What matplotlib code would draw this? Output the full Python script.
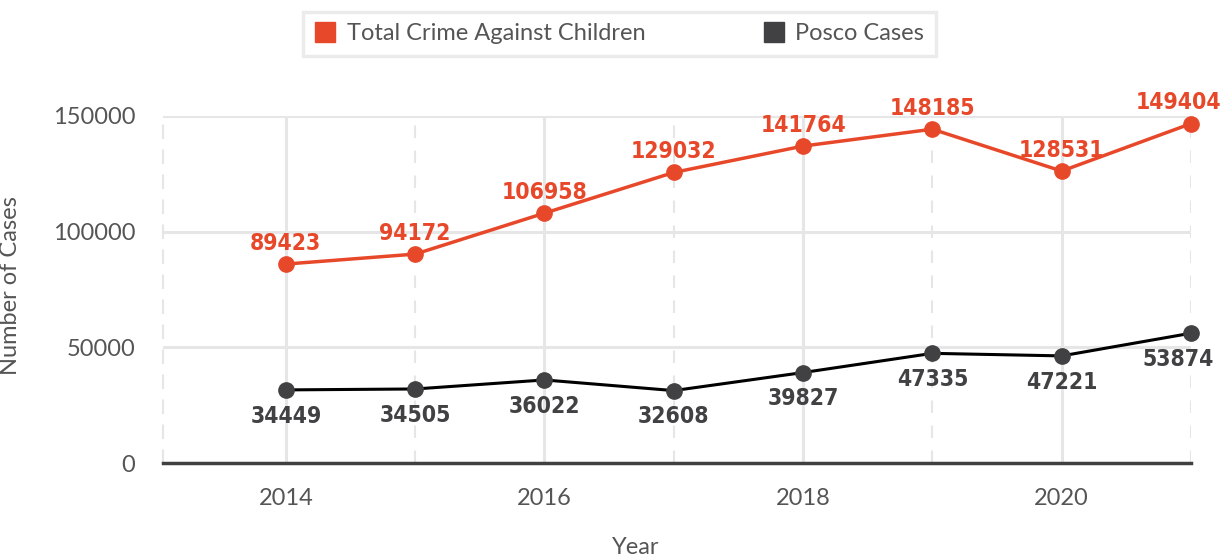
"""Crime against children vs POCSO cases, line chart."""

import matplotlib.pyplot as plt
from matplotlib.lines import Line2D
from matplotlib import font_manager

# Data
years = [2014, 2015, 2016, 2017, 2018, 2019, 2020, 2021]
total_values = [86000, 90300, 108000, 125600, 137000, 144300, 126200, 146700]
total_labels = ['89423', '94172', '106958', '129032', '141764', '148185', '128531', '149404']
posco_values = [31600, 32000, 35900, 31300, 39100, 47400, 46300, 56100]
posco_labels = ['34449', '34505', '36022', '32608', '39827', '47335', '47221', '53874']
y_ticks = [0, 50000, 100000, 150000]
x_ticks = [2014, 2016, 2018, 2020]

ORANGE = '#E8482A'
DARK = '#414042'
GRID = '#E6E6E6'
TEXT = '#555555'
BASE_FONT = ['Lato', 'DejaVu Sans']

# condensed bold font for the value labels
label_prop = font_manager.FontProperties(family='DejaVu Sans', weight='bold',
                                         stretch='condensed', size=16.5)

fig = plt.figure(figsize=(12.23, 5.59), dpi=100)
ax = fig.add_axes([163 / 1223, 1 - 463 / 559, (1191 - 163) / 1223, (463 - 116) / 559])

ax.set_xlim(2013.05, 2021.0)
ax.set_ylim(0, 150000)

# Grid lines
for y in y_ticks[1:]:
    ax.axhline(y, color=GRID, lw=2.2, zorder=0)
for x in years:
    if x % 2 == 0:
        ax.axvline(x, color=GRID, lw=2.2, zorder=0)
    else:
        ax.axvline(x, color=GRID, lw=1.5, ls=(0, (6, 6)), zorder=0)

for side in ['top', 'right']:
    ax.spines[side].set_visible(False)
ax.spines['left'].set_color(GRID)
ax.spines['left'].set_linewidth(1.5)
ax.spines['left'].set_linestyle((0, (6, 6)))
ax.spines['bottom'].set_color('#404040')
ax.spines['bottom'].set_linewidth(2.5)
ax.spines['bottom'].set_zorder(3)

# Series
ax.plot(years, total_values, color=ORANGE, lw=2.5, marker='o', markersize=11,
        markerfacecolor=ORANGE, markeredgecolor=ORANGE, clip_on=False, zorder=4)
ax.plot(years, posco_values, color='black', lw=2.2, marker='o', markersize=11,
        markerfacecolor=DARK, markeredgecolor=DARK, clip_on=False, zorder=4)

# last labels are nudged left so they stay inside the figure
for i, (x, y, lab) in enumerate(zip(years, total_values, total_labels)):
    dx = -9 if i == len(years) - 1 else 0
    ax.annotate(lab, (x, y), xytext=(dx, 15), textcoords='offset points',
                ha='center', va='center', color=ORANGE,
                fontproperties=label_prop, annotation_clip=False)
for i, (x, y, lab) in enumerate(zip(years, posco_values, posco_labels)):
    dx = -9 if i == len(years) - 1 else 0
    ax.annotate(lab, (x, y), xytext=(dx, -19), textcoords='offset points',
                ha='center', va='center', color=DARK,
                fontproperties=label_prop, annotation_clip=False)

# Ticks
ax.set_xticks(x_ticks)
ax.set_xticklabels([str(x) for x in x_ticks])
ax.set_yticks(y_ticks)
ax.set_yticklabels([str(y) for y in y_ticks])
ax.tick_params(axis='both', length=0, labelsize=17, labelcolor=TEXT)
ax.tick_params(axis='y', pad=20)
ax.tick_params(axis='x', pad=18)
for lab in ax.get_xticklabels() + ax.get_yticklabels():
    lab.set_family(BASE_FONT)

ax.set_ylabel('Number of Cases', fontsize=17, color=TEXT, family=BASE_FONT)
ax.yaxis.set_label_coords(-0.138, 0.51)
fig.text(636 / 1223, 1 - 547 / 559, 'Year', fontsize=17, color=TEXT,
         family=BASE_FONT, ha='center', va='center')

# Legend
handles = [
    Line2D([0], [0], marker='s', color='w', markerfacecolor=ORANGE,
           markeredgecolor=ORANGE, markersize=15, label='Total Crime Against Children'),
    Line2D([0], [0], marker='s', color='w', markerfacecolor=DARK,
           markeredgecolor=DARK, markersize=15, label='Posco Cases'),
]
leg = fig.legend(handles=handles, loc='center', ncol=2,
                 bbox_to_anchor=(619.5 / 1223, 1 - 34 / 559),
                 frameon=True, fancybox=False, handlelength=0.9,
                 handletextpad=0.45, columnspacing=5.0, borderpad=0.5,
                 borderaxespad=0.0,
                 prop={'family': BASE_FONT, 'size': 17})
leg.get_frame().set_edgecolor(GRID)
leg.get_frame().set_linewidth(2.5)
for t in leg.get_texts():
    t.set_color(TEXT)

fig.savefig('out.png', dpi=100)
